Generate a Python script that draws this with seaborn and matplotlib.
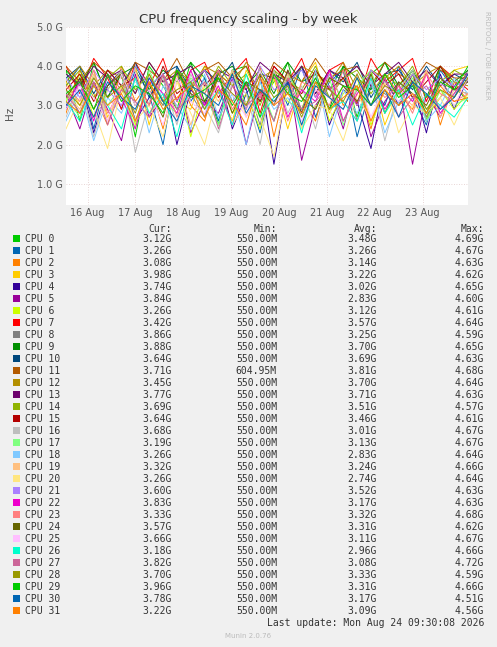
import matplotlib
matplotlib.use("Agg")
import matplotlib.pyplot as plt
import seaborn as sns
import pandas as pd
import numpy as np

names = [f"CPU {i}" for i in range(32)]
colors = ["#00CC00","#0066B3","#FF8000","#FFCC00","#330099","#990099","#CCFF00","#FF0000",
          "#808080","#008F00","#00487D","#B35A00","#B38F00","#6B006B","#8FB300","#B30000",
          "#BEBEBE","#80FF80","#80C9FF","#FFC080","#FFE680","#AA80FF","#EE00CC","#FF8080",
          "#666600","#FFBFFF","#00FFCC","#CC6699","#999900","#00CC00","#0066B3","#FF8000"]
cur = ["3.12G","3.26G","3.08G","3.98G","3.74G","3.84G","3.26G","3.42G","3.86G","3.88G","3.64G","3.71G",
       "3.45G","3.77G","3.69G","3.64G","3.68G","3.19G","3.26G","3.32G","3.26G","3.60G","3.83G","3.33G",
       "3.57G","3.66G","3.18G","3.82G","3.70G","3.96G","3.78G","3.22G"]
mins = ["550.00M"]*32
mins[11] = "604.95M"
avg = ["3.48G","3.26G","3.14G","3.22G","3.02G","2.83G","3.12G","3.57G","3.25G","3.70G","3.69G","3.81G",
       "3.70G","3.71G","3.51G","3.46G","3.01G","3.13G","2.83G","3.24G","2.74G","3.52G","3.17G","3.32G",
       "3.31G","3.11G","2.96G","3.08G","3.33G","3.31G","3.17G","3.09G"]
maxs = ["4.69G","4.67G","4.63G","4.62G","4.65G","4.60G","4.61G","4.64G","4.59G","4.65G","4.63G","4.68G",
        "4.64G","4.63G","4.57G","4.61G","4.67G","4.67G","4.64G","4.66G","4.64G","4.63G","4.63G","4.68G",
        "4.62G","4.67G","4.66G","4.72G","4.59G","4.66G","4.51G","4.56G"]

# hand-read series (GHz), ~30 samples across the week
series = [
 [3.9,2.6,4.1,3.2,3.8,2.2,4.0,3.5,2.9,4.1,3.7,2.5,3.9,4.0,3.1,3.6,4.1,2.8,3.9,3.4,4.0,2.7,3.8,4.1,3.3,3.9,2.6,4.0,3.5,3.1],
 [3.5,4.0,2.4,3.8,2.9,3.9,3.3,2.0,4.0,3.1,3.7,2.6,3.9,3.4,2.3,3.8,3.0,4.0,2.7,3.6,3.9,2.2,3.5,3.0,4.0,3.2,2.5,3.9,3.4,3.3],
 [2.8,3.9,3.3,2.5,4.0,3.1,3.6,2.4,3.9,3.0,2.6,3.8,3.5,2.9,4.0,2.2,3.7,3.2,2.6,3.9,3.0,3.5,2.4,3.8,3.3,2.9,3.9,2.5,3.6,3.1],
 [3.6,3.0,3.9,2.7,3.3,4.0,2.5,3.8,3.1,2.9,4.0,3.4,2.6,3.9,3.2,3.7,2.4,3.6,4.1,2.8,3.5,3.0,3.9,2.5,3.4,3.8,2.7,3.2,3.9,4.0],
 [2.9,3.7,2.3,3.5,3.9,2.6,3.2,3.8,2.0,3.4,3.0,3.9,2.4,3.3,3.8,1.5,3.6,2.8,3.9,2.5,3.4,3.1,1.9,3.7,3.0,3.6,2.3,3.8,2.9,3.7],
 [3.3,2.4,3.6,2.9,2.1,3.8,2.7,3.2,3.9,2.3,3.1,2.8,3.7,2.0,3.4,2.6,3.9,1.6,3.0,3.5,2.4,3.8,2.2,3.1,3.6,1.5,3.3,2.7,3.5,3.8],
 [3.1,3.8,2.7,3.4,3.9,2.5,3.6,3.0,3.8,2.2,3.5,3.9,2.8,3.3,2.4,3.7,3.1,2.9,3.9,2.6,3.3,3.7,2.5,3.4,3.0,3.8,2.6,3.4,2.9,3.3],
 [4.0,3.3,4.2,3.7,2.9,4.1,3.5,4.2,3.1,3.9,4.1,3.3,3.8,4.2,2.8,4.0,3.6,4.2,3.2,3.9,4.1,3.0,4.2,3.6,3.9,4.2,3.1,4.0,3.7,3.4],
 [3.4,2.8,3.7,3.2,3.9,2.6,3.5,3.0,3.8,3.3,2.7,3.9,3.1,3.6,2.5,3.8,3.4,2.9,3.7,3.2,3.9,2.6,3.5,3.3,3.0,3.8,2.7,3.6,3.2,3.9],
 [3.9,3.5,4.1,3.2,3.8,4.0,3.4,3.9,3.6,4.1,3.1,3.8,4.0,3.5,3.9,3.3,4.1,3.6,3.8,2.9,4.0,3.7,3.4,4.1,3.5,3.9,3.2,4.0,3.6,3.9],
 [3.7,4.0,3.3,3.9,3.5,4.1,3.2,3.8,4.0,3.4,3.9,3.6,4.1,3.0,3.8,3.7,3.5,4.0,3.3,3.9,3.6,4.1,3.2,3.8,3.9,3.4,4.0,3.5,3.8,3.6],
 [4.0,3.6,4.1,3.8,3.4,4.1,3.9,3.6,4.2,3.5,3.9,4.1,3.7,4.0,3.3,4.1,3.8,3.6,4.2,3.7,3.9,4.0,3.5,4.1,3.8,3.6,4.1,3.9,3.7,3.7],
 [3.6,4.0,3.5,3.9,3.7,3.3,4.1,3.6,3.9,3.4,4.0,3.8,3.5,4.1,3.7,3.9,3.3,4.0,3.8,3.6,4.1,3.4,3.9,3.7,4.0,3.5,3.8,4.0,3.6,3.5],
 [3.8,3.5,4.0,3.7,3.9,3.3,4.1,3.6,3.8,4.0,3.5,3.9,3.7,3.4,4.1,3.8,3.6,4.0,3.3,3.9,3.7,4.0,3.5,3.8,4.1,3.6,3.9,3.5,3.8,3.8],
 [3.5,3.9,3.2,3.7,4.0,3.4,3.8,3.1,3.9,3.6,3.3,4.0,3.5,3.8,3.0,3.9,3.6,3.4,4.0,3.2,3.7,3.9,3.3,3.8,3.5,4.0,3.2,3.6,3.9,3.7],
 [3.4,3.8,3.1,3.9,3.5,3.7,3.0,4.0,3.3,3.6,3.9,3.2,3.8,3.5,3.1,4.0,3.6,3.3,3.9,3.4,3.7,3.0,3.9,3.5,3.8,3.2,3.6,4.0,3.4,3.6],
 [2.7,3.6,2.2,3.4,3.9,1.8,3.1,3.7,2.5,3.8,3.0,2.3,3.6,3.3,2.0,3.9,2.8,3.5,2.4,3.8,3.1,2.6,3.7,2.1,3.4,3.9,2.9,3.2,3.6,3.7],
 [3.2,2.7,3.8,3.0,3.5,2.4,3.9,3.1,2.8,3.7,3.3,2.5,3.9,3.0,3.6,2.6,3.8,3.2,2.9,3.7,2.5,3.5,3.9,2.8,3.3,3.7,2.6,3.4,3.0,3.2],
 [2.6,3.4,2.1,3.2,2.8,3.7,2.3,3.5,3.0,2.4,3.8,2.7,3.3,2.0,3.6,2.9,3.2,2.5,3.9,2.2,3.4,2.8,3.6,2.3,3.1,3.5,2.6,3.0,3.7,3.3],
 [3.3,2.9,3.8,2.6,3.5,3.9,2.8,3.2,3.7,2.5,3.6,3.1,3.9,2.7,3.4,3.0,3.8,2.4,3.5,3.2,2.9,3.8,2.6,3.6,3.3,3.0,3.9,2.7,3.4,3.3],
 [2.4,3.2,2.9,1.9,3.5,2.6,3.0,2.2,3.6,2.8,2.0,3.4,2.5,3.1,2.7,1.7,3.5,2.4,3.0,2.9,2.1,3.3,2.6,3.6,2.3,3.0,2.8,3.2,2.5,3.3],
 [3.7,3.2,3.9,3.4,3.0,4.0,3.5,3.8,3.1,3.6,3.9,3.3,3.7,2.9,4.0,3.4,3.6,3.9,3.2,3.8,3.5,3.0,3.9,3.6,3.3,3.8,3.4,3.7,3.5,3.6],
 [3.0,3.6,2.6,3.8,3.2,2.4,3.7,3.3,2.8,3.9,3.0,3.5,2.5,3.6,3.2,3.8,2.7,3.4,3.1,3.9,2.6,3.3,3.7,2.9,3.5,3.1,3.8,2.8,3.3,3.8],
 [3.5,3.1,3.9,2.8,3.4,3.7,3.0,3.8,2.7,3.6,3.3,3.9,2.9,3.5,3.2,3.8,2.6,3.6,3.4,3.0,3.9,3.1,3.7,3.2,3.5,2.8,3.8,3.3,3.1,3.3],
 [3.2,3.7,2.9,3.5,3.8,3.0,3.4,2.7,3.9,3.3,3.1,3.7,2.8,3.6,3.4,3.0,3.9,3.2,2.9,3.7,3.5,3.1,3.8,2.8,3.6,3.3,3.0,3.7,3.4,3.6],
 [2.9,3.5,3.2,2.6,3.8,3.0,3.4,2.5,3.7,3.1,2.8,3.6,3.3,2.7,3.9,3.0,3.5,2.6,3.4,3.2,2.9,3.8,2.7,3.5,3.1,3.3,2.8,3.6,3.0,3.7],
 [3.1,2.6,3.5,3.0,2.4,3.7,2.8,3.3,2.2,3.6,2.9,3.4,2.5,3.8,2.7,3.2,3.5,2.3,3.6,2.9,3.1,2.6,3.7,2.8,3.4,2.5,3.3,3.0,2.7,3.2],
 [3.3,2.8,3.6,2.5,3.4,3.1,2.7,3.8,2.9,3.2,3.6,2.4,3.5,3.0,3.3,2.6,3.7,2.9,3.1,3.5,2.6,3.4,3.0,3.7,2.7,3.2,3.5,2.9,3.3,3.8],
 [3.4,3.0,3.7,3.2,3.5,2.8,3.8,3.1,3.4,3.6,2.9,3.7,3.3,3.0,3.8,3.2,3.5,2.7,3.6,3.4,3.1,3.8,3.0,3.5,3.3,3.6,2.9,3.4,3.2,3.7],
 [3.3,3.6,2.9,3.8,3.1,3.5,3.3,2.8,3.9,3.2,3.4,3.7,3.0,3.6,2.7,3.8,3.3,3.1,3.7,2.9,3.5,3.4,3.0,3.8,3.2,3.5,2.8,3.6,3.4,4.0],
 [3.0,3.4,2.7,3.6,3.2,2.9,3.7,3.1,2.6,3.5,3.3,3.0,3.8,2.8,3.4,3.1,3.6,2.5,3.5,3.2,2.9,3.7,3.0,3.4,2.7,3.6,3.3,2.9,3.2,3.8],
 [3.1,2.8,3.5,3.0,3.3,2.6,3.6,2.9,3.2,3.5,2.7,3.4,3.1,2.5,3.7,3.0,3.3,2.8,3.6,2.9,3.2,3.5,2.6,3.4,3.0,3.3,2.8,3.5,3.1,3.2],
]
day_ticks = [0.45 + i for i in range(8)]
day_labels = ["16 Aug","17 Aug","18 Aug","19 Aug","20 Aug","21 Aug","22 Aug","23 Aug"]
x_end = 8.4

rows = []
for n, s in zip(names, series):
    xs = np.linspace(0, x_end, len(s))
    for x, v in zip(xs, s):
        rows.append({"t": x, "v": v * 1e9, "cpu": n})
df = pd.DataFrame(rows)

sns.set_style("white")
fig = plt.figure(figsize=(4.97, 6.47), dpi=100, facecolor="#F0F0F0")
ax = fig.add_axes([66/497, 1-205/647, 402/497, 178/647])
ax.set_facecolor("white")
sns.lineplot(data=df, x="t", y="v", hue="cpu", palette=colors, ax=ax, legend=False, linewidth=0.7)
ax.set_xlim(0, x_end)
ax.set_ylim(0.46e9, 5.0e9)
ax.set_xticks(day_ticks)
ax.set_xticklabels(day_labels, fontsize=7, color="#555555")
yt = [1e9, 2e9, 3e9, 4e9, 5e9]
ax.set_yticks(yt)
ax.set_yticklabels(["1.0 G","2.0 G","3.0 G","4.0 G","5.0 G"], fontsize=7, color="#555555")
ax.set_xlabel(""); ax.set_ylabel("")
ax.grid(True, color="#E0C8C8", linestyle=(0, (1, 2)), linewidth=0.6)
for s in ax.spines.values():
    s.set_visible(False)
ax.tick_params(length=0, pad=2)
fig.text(248/497, 1-19/647, "CPU frequency scaling - by week", ha="center", va="center", fontsize=9.5, color="#333333")
fig.text(10/497, 1-113/647, "Hz", rotation=90, ha="center", va="center", fontsize=7.5, color="#555555")
fig.text(487/497, 1-55/647, "RRDTOOL / TOBI OETIKER", rotation=270, ha="center", va="center", fontsize=5, color="#BBBBBB")

mono = "DejaVu Sans Mono"
fs = 7
def yy(p): return 1 - p/647
fig.text(172/497, yy(229), "Cur:", ha="right", va="center", family=mono, fontsize=fs, color="#333333")
fig.text(277/497, yy(229), "Min:", ha="right", va="center", family=mono, fontsize=fs, color="#333333")
fig.text(377/497, yy(229), "Avg:", ha="right", va="center", family=mono, fontsize=fs, color="#333333")
fig.text(484/497, yy(229), "Max:", ha="right", va="center", family=mono, fontsize=fs, color="#333333")
for i in range(32):
    y = 239 + i * 12
    fig.patches.append(plt.Rectangle((13/497, yy(y+3)), 7/497, 7/647, transform=fig.transFigure,
                                     facecolor=colors[i], edgecolor="none"))
    fig.text(25/497, yy(y), names[i], ha="left", va="center", family=mono, fontsize=fs, color="#333333")
    fig.text(172/497, yy(y), cur[i], ha="right", va="center", family=mono, fontsize=fs, color="#333333")
    fig.text(277/497, yy(y), mins[i], ha="right", va="center", family=mono, fontsize=fs, color="#333333")
    fig.text(377/497, yy(y), avg[i], ha="right", va="center", family=mono, fontsize=fs, color="#333333")
    fig.text(484/497, yy(y), maxs[i], ha="right", va="center", family=mono, fontsize=fs, color="#333333")
fig.text(484/497, yy(623), "Last update: Mon Aug 24 09:30:08 2026", ha="right", va="center", family=mono, fontsize=fs, color="#333333")
fig.text(248/497, yy(636), "Munin 2.0.76", ha="center", va="center", fontsize=5, color="#BBBBBB")
fig.savefig("out.png", dpi=100, facecolor=fig.get_facecolor())
